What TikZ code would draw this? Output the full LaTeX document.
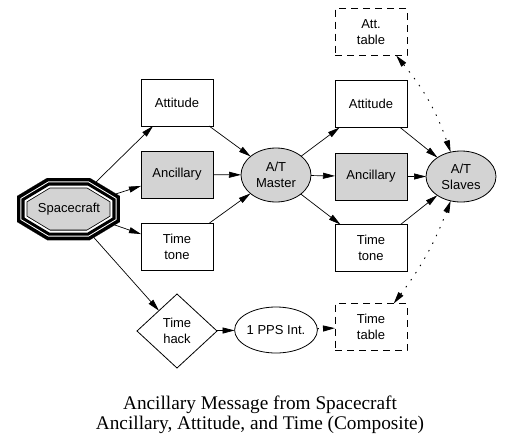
\documentclass[tikz,border=0pt]{standalone}
\usepackage{fontspec}
\setmainfont{Liberation Sans}
\newfontfamily\capfont{Liberation Serif}
\usetikzlibrary{arrows.meta,shapes.geometric}
\definecolor{fillgray}{RGB}{211,211,211}
\begin{document}
\begin{tikzpicture}[x=1pt,y=-1pt,
  >={Triangle[length=12pt,width=6pt]},
  every node/.style={font=\fontsize{13}{16}\selectfont, align=center, inner sep=0pt, outer sep=0pt},
  box/.style={draw, line width=0.8pt, minimum width=72pt, minimum height=47pt},
  gbox/.style={box, fill=fillgray},
  dbox/.style={box, dash pattern=on 7pt off 5pt},
  ell/.style={ellipse, draw, line width=0.8pt},
  conn/.style={line width=0.7pt, ->},
  dotconn/.style={line width=0.9pt, dash pattern=on 1.5pt off 7pt},
]
\path[use as bounding box] (0,0) rectangle (516,447);

% Spacecraft octagon
\begin{scope}[shift={(68.5,209)}, xscale=1.661]
  \node[regular polygon, regular polygon sides=8, minimum size=67.11pt, transform shape] (sc) at (0,0) {};
\end{scope}
\begin{scope}
  \clip (sc.corner 1) -- (sc.corner 2) -- (sc.corner 3) -- (sc.corner 4) -- (sc.corner 5) -- (sc.corner 6) -- (sc.corner 7) -- (sc.corner 8) -- cycle;
  \fill[fillgray] (sc.corner 1) -- (sc.corner 2) -- (sc.corner 3) -- (sc.corner 4) -- (sc.corner 5) -- (sc.corner 6) -- (sc.corner 7) -- (sc.corner 8) -- cycle;
  \foreach \w/\c in {20.6/black, 19/white, 15/black, 8.8/white, 6.8/black}
    \draw[line width=\w pt, draw=\c, line join=miter] (sc.corner 1) -- (sc.corner 2) -- (sc.corner 3) -- (sc.corner 4) -- (sc.corner 5) -- (sc.corner 6) -- (sc.corner 7) -- (sc.corner 8) -- cycle;
\end{scope}
\node (sclabel) at (69,209.5) {Spacecraft};

\node[box] (att1) at (177,102.5) {Attitude};
\node[gbox] (anc1) at (177,174.5) {Ancillary};
\node[box] (tone1) at (177,246.5) {Time\\tone};
\node[ell, fill=fillgray, minimum width=70pt, minimum height=54pt] (master) at (276,175) {A/T\\Master};
\node[box] (att2) at (371,104) {Attitude};
\node[gbox] (anc2) at (371,176.5) {Ancillary};
\node[box] (tone2) at (371,248) {Time\\tone};
\node[ell, fill=fillgray, minimum width=70pt, minimum height=51pt] (slaves) at (461,176.5) {A/T\\Slaves};
\node[dbox] (atttab) at (371,32) {Att.\\table};
\node[dbox] (timetab) at (371,327) {Time\\table};
\node[diamond, draw, line width=0.8pt, minimum width=80pt, minimum height=74pt] (hack) at (177,331) {Time\\hack};
\node[ell, minimum width=76pt, minimum height=46pt] (pps) at (276,330) {1 PPS Int.};

\draw[conn] (sc) -- (att1);
\draw[conn] (sc) -- (anc1);
\draw[conn] (sc) -- (tone1);
\draw[conn] (sc) -- (hack);
\draw[conn] (att1) -- (master);
\draw[conn] (anc1) -- (master);
\draw[conn] (tone1) -- (master);
\draw[conn] (master) -- (att2);
\draw[conn] (master) -- (anc2);
\draw[conn] (master) -- (tone2);
\draw[conn] (att2) -- (slaves);
\draw[conn] (anc2) -- (slaves);
\draw[conn] (tone2) -- (slaves);
\draw[conn] (hack) -- (pps);
\draw[dotconn, ->] (pps) -- (timetab);
\draw[dotconn, <->] (atttab.-43) to[bend left=10] (slaves.113);
\draw[dotconn, <->] (timetab.46) to[bend right=8] (slaves.-113);

\node[font=\capfont\fontsize{19.3}{20}\selectfont] (caption) at (260,415) {Ancillary Message from Spacecraft\\Ancillary, Attitude, and Time (Composite)};
\end{tikzpicture}
\end{document}
